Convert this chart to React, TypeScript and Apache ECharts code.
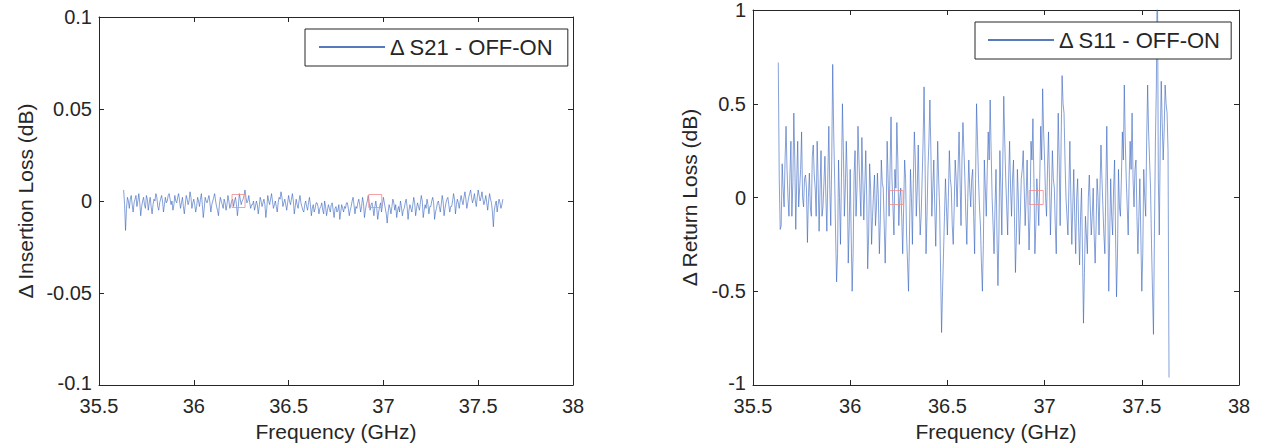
import React, { useEffect, useRef } from "react";
import * as echarts from "echarts";

// Frequency sweep (GHz): start and step of the measured points
const FREQ_START = 35.63;
const FREQ_STEP = 0.005;

// Δ S21 (dB), OFF-ON, one value per sweep point
const s21Values = [
  0.006, -0.002, -0.016, -0.004, 0.002, 0.0, -0.004, 0.001, 0.003, -0.002, -0.006, -0.001, 0.001, 0.003, -0.003, 0.0, 0.004, -0.001, -0.008, -0.003, 0.0, 0.002, -0.002, -0.004, 0.003, 0.001, -0.005, -0.001, 0.002, -0.003, -0.007, -0.002, 0.001, 0.0, 0.004, 0.002, -0.003, -0.005, -0.001, 0.001, 0.003, 0.0, -0.006, -0.002, 0.002, -0.001, 0.0, 0.003, 0.004, 0.001, -0.002, 0.0, -0.005, -0.002, 0.003, 0.0,
  -0.001, 0.002, 0.004, 0.0, -0.004, -0.001, 0.002, -0.003, -0.007, -0.002, 0.003, 0.001, -0.002, 0.0, 0.005, 0.002, -0.004, -0.001, 0.001, -0.002, -0.006, -0.003, 0.002, 0.0, -0.003, 0.001, 0.004, -0.002, -0.009, -0.004, 0.002, 0.0, -0.001, 0.001, 0.003, -0.001, -0.006, -0.002, 0.0, 0.002, 0.004, 0.0, -0.003, -0.005, -0.008, -0.002, 0.002, 0.0, -0.002, -0.004, 0.001, -0.001, -0.005, -0.002, 0.003, 0.0, -0.004, -0.002, 0.0, 0.001,
  -0.003, 0.0, 0.002, -0.002, -0.008, -0.003, 0.004, 0.001, -0.002, 0.0, 0.001, 0.003, 0.006, 0.002, -0.001, 0.0, 0.003, -0.001, -0.004, -0.002, -0.002, 0.0, -0.005, -0.003, 0.0, -0.002, -0.007, -0.003, 0.002, 0.0, -0.003, -0.001, 0.001, -0.002, -0.009, -0.004, 0.003, 0.0, -0.002, 0.001, 0.004, 0.0, -0.004, -0.002, 0.0, -0.003, -0.006, -0.001, 0.002, 0.001, 0.005, 0.002, -0.003, -0.001, 0.001, -0.002, -0.005, -0.001, 0.003, 0.0,
  -0.002, 0.001, 0.004, 0.0, -0.007, -0.003, 0.001, -0.002, -0.004, 0.0, 0.003, -0.001, -0.003, -0.005, -0.006, -0.002, 0.0, -0.003, -0.005, -0.001, 0.002, -0.002, -0.008, -0.004, -0.002, -0.006, -0.004, -0.001, -0.001, -0.003, -0.007, -0.004, -0.003, -0.001, -0.005, -0.007, 0.0, -0.003, -0.008, -0.005, -0.002, -0.004, -0.006, -0.002, -0.001, -0.005, -0.009, -0.004, -0.003, -0.006, -0.005, -0.002, -0.01, -0.006, -0.002, -0.004, -0.006, -0.003, -0.004, -0.001,
  -0.001, -0.004, -0.008, -0.005, -0.003, 0.0, 0.002, -0.002, -0.007, -0.003, -0.004, -0.001, 0.001, -0.002, -0.006, -0.003, 0.002, -0.001, -0.009, -0.005, -0.002, 0.0, 0.003, -0.001, -0.005, -0.002, -0.001, -0.004, -0.008, -0.003, 0.0, -0.004, -0.01, -0.006, -0.003, -0.001, -0.006, -0.002, 0.002, -0.001, -0.004, -0.007, -0.012, -0.006, -0.002, -0.004, -0.007, -0.003, 0.001, -0.001, -0.005, -0.002, -0.009, -0.005, -0.003, -0.006, 0.0, -0.003, -0.008, -0.005,
  -0.004, -0.001, 0.001, -0.003, -0.01, -0.005, -0.002, -0.004, -0.006, -0.002, 0.002, -0.001, -0.008, -0.004, -0.001, -0.003, -0.005, -0.001, 0.003, 0.0, -0.009, -0.005, -0.002, -0.004, 0.001, -0.002, -0.007, -0.003, -0.003, 0.0, 0.002, -0.001, -0.01, -0.006, -0.004, -0.001, 0.0, -0.003, -0.006, -0.002, 0.003, 0.0, -0.008, -0.004, -0.001, 0.001, 0.002, -0.002, -0.006, -0.003, -0.003, 0.0, 0.004, 0.001, -0.007, -0.002, 0.001, -0.001, -0.004, 0.0,
  0.003, 0.0, -0.002, 0.002, 0.005, 0.001, -0.004, -0.001, 0.002, 0.004, 0.006, 0.002, -0.001, 0.001, 0.004, 0.0, -0.003, 0.002, 0.006, 0.003, 0.0, 0.002, 0.005, 0.001, -0.002, 0.0, 0.003, -0.001, -0.005, 0.0, 0.004, 0.001, -0.001, -0.006, -0.014, -0.005, -0.002, 0.0, -0.006, -0.002, 0.001, -0.001, -0.004, -0.002, 0.001,
];

// Δ S11 (dB), OFF-ON, one value per sweep point
const s11Values = [
  0.72, 0.1, -0.17, -0.15, 0.18, 0.05, -0.05, 0.2, 0.38, 0.15, 0.0, -0.1, 0.12, 0.3, -0.1, 0.08, 0.45, 0.2, -0.17, 0.1,
  0.3, -0.05, 0.05, 0.15, 0.35, 0.0, -0.05, 0.1, 0.12, 0.05, -0.24, 0.0, 0.13, -0.05, -0.1, 0.22, 0.28, 0.12, 0.05, -0.1,
  0.3, 0.1, -0.18, 0.05, 0.25, -0.1, -0.05, 0.08, 0.22, 0.0, -0.18, 0.12, 0.38, 0.05, -0.15, 0.2, 0.71, 0.35, 0.1, -0.2,
  -0.45, -0.3, 0.2, 0.0, -0.25, 0.1, 0.5, 0.25, -0.1, 0.05, 0.3, 0.1, -0.35, -0.15, 0.15, -0.2, -0.5, -0.3, 0.12, 0.25,
  -0.1, 0.05, 0.38, 0.2, 0.05, -0.1, 0.32, 0.1, -0.12, 0.05, 0.25, 0.0, -0.38, -0.2, 0.18, 0.05, -0.25, -0.1, 0.02, 0.12,
  -0.15, -0.05, 0.13, 0.0, -0.3, -0.12, 0.2, 0.08, 0.05, -0.15, -0.35, -0.1, 0.3, 0.1, -0.1, 0.15, 0.43, 0.1, -0.05, -0.2,
  0.15, 0.05, 0.4, 0.2, -0.15, 0.0, 0.05, -0.1, -0.3, -0.05, 0.2, 0.1, -0.2, -0.35, -0.5, -0.2, 0.15, 0.0, -0.25, 0.1,
  0.35, 0.2, -0.1, 0.05, 0.28, 0.0, -0.2, -0.1, 0.1, 0.3, 0.59, 0.2, -0.3, -0.1, 0.15, 0.3, 0.52, 0.25, -0.1, 0.05,
  0.2, -0.05, -0.26, 0.0, 0.3, 0.1, -0.05, -0.4, -0.72, -0.5, -0.3, -0.1, 0.1, -0.05, -0.2, 0.0, 0.25, 0.1, 0.05, -0.15,
  -0.25, -0.05, 0.2, 0.1, -0.05, 0.15, 0.35, 0.1, -0.15, 0.2, 0.4, 0.25, 0.1, -0.1, -0.25, 0.0, 0.2, 0.05, -0.05, 0.1,
  0.15, -0.1, -0.3, 0.1, 0.5, 0.3, 0.1, -0.05, -0.15, -0.35, -0.5, -0.25, 0.2, 0.05, -0.1, 0.15, 0.35, 0.2, 0.52, 0.25,
  0.0, -0.15, -0.3, -0.05, 0.15, -0.2, -0.47, -0.2, 0.25, 0.05, -0.2, 0.2, 0.54, 0.3, 0.1, -0.05, -0.2, 0.1, 0.3, 0.05,
  -0.1, 0.1, 0.2, -0.1, -0.4, -0.2, 0.15, 0.0, -0.25, -0.1, 0.1, 0.15, 0.25, 0.05, -0.15, 0.0, 0.2, -0.05, -0.28, -0.1,
  0.3, 0.2, 0.42, 0.1, -0.3, -0.15, 0.1, 0.0, -0.15, 0.1, 0.38, 0.2, 0.58, 0.35, 0.2, 0.0, -0.1, 0.15, 0.35, 0.1,
  -0.2, 0.0, 0.25, 0.1, 0.05, -0.15, -0.3, 0.1, 0.45, 0.2, -0.15, 0.3, 0.65, 0.5, 0.45, 0.2, 0.0, -0.1, -0.2, 0.05,
  0.3, 0.0, -0.25, -0.05, 0.15, -0.1, -0.3, 0.0, 0.1, -0.15, -0.36, -0.1, 0.05, -0.3, -0.67, -0.4, -0.1, -0.2, -0.3, 0.0,
  0.12, -0.05, -0.2, -0.1, 0.05, -0.2, -0.35, -0.15, 0.1, 0.0, -0.2, 0.05, 0.28, 0.1, -0.05, -0.2, -0.3, 0.05, 0.38, 0.0,
  -0.5, -0.2, 0.1, -0.1, -0.2, 0.05, 0.2, -0.2, -0.53, -0.3, 0.15, -0.05, -0.1, 0.1, 0.35, 0.2, 0.6, 0.3, 0.1, -0.05,
  -0.2, 0.1, 0.3, 0.15, 0.45, 0.1, -0.05, 0.15, 0.2, -0.1, -0.3, -0.1, 0.1, -0.2, -0.5, -0.3, 0.15, 0.0, -0.1, 0.3,
  0.6, 0.35, 0.2, 0.05, -0.25, -0.5, -0.73, -0.2, 0.3, 0.6, 1.3, 0.1, -0.2, 0.3, 0.62, 0.4, 0.2, 0.35, 0.6, 0.5,
  0.45, 0.25, -0.96,
];

// Reference markers (hollow squares) at these frequencies
const markerFreqs = [36.236, 36.957];
const markerValues = [0, 0];

const xTicks = { min: 35.5, max: 38, interval: 0.5 };
const leftY = { min: -0.1, max: 0.1, interval: 0.05 };
const rightY = { min: -1, max: 1, interval: 0.5 };

const s21Name = "Δ S21 - OFF-ON";
const s11Name = "Δ S11 - OFF-ON";

const FONT = "'Liberation Sans', Arial, Helvetica, sans-serif";
const INK = "#262626";
const LINE_COLOR = "#3461bd";
const LEGEND_LINE = "#1f4ea8";
const MARKER_COLOR = "#f28b8b";

function toPairs(values: number[]) {
  return values.map((v, i) => [Number((FREQ_START + i * FREQ_STEP).toFixed(3)), v]);
}

function fmt(v: number) {
  const r = Math.round(v * 1000) / 1000;
  return String(r === 0 ? 0 : r);
}

export default function App() {
  const ref = useRef<HTMLDivElement>(null);

  useEffect(() => {
    if (!ref.current) return;
    const chart = echarts.init(ref.current, undefined, { renderer: "svg" });

    const axisLine = { show: true, onZero: false, lineStyle: { color: INK, width: 1 } };
    const tick = { show: true, inside: true, length: 5, lineStyle: { color: INK, width: 1 } };
    const label = { color: INK, fontSize: 20, fontFamily: FONT };

    const mkX = (gridIndex: number, position: "bottom" | "top", withLabels: boolean) => ({
      type: "value",
      gridIndex,
      position,
      min: xTicks.min,
      max: xTicks.max,
      interval: xTicks.interval,
      axisLine,
      axisTick: tick,
      splitLine: { show: false },
      axisLabel: withLabels ? { ...label, margin: 11, formatter: fmt } : { show: false },
      name: withLabels ? "Frequency (GHz)" : "",
      nameLocation: "middle",
      nameGap: 36,
      nameTextStyle: { color: INK, fontSize: 21, fontFamily: FONT },
    });

    const mkY = (
      gridIndex: number,
      position: "left" | "right",
      r: { min: number; max: number; interval: number },
      name: string,
      gap: number
    ) => ({
      type: "value",
      gridIndex,
      position,
      min: r.min,
      max: r.max,
      interval: r.interval,
      axisLine,
      axisTick: tick,
      splitLine: { show: false },
      axisLabel: name
        ? {
            ...label,
            margin: 7,
            formatter: (v: number) => (v === r.min ? "{low|" + fmt(v) + "}" : fmt(v)),
            rich: { low: { fontSize: 20, fontFamily: FONT, color: INK, padding: [0, 0, 4, 0] } },
          }
        : { show: false },
      name,
      nameLocation: "middle",
      nameGap: gap,
      nameTextStyle: { color: INK, fontSize: 21, fontFamily: FONT },
    });

    const markerData = markerFreqs.map((f, i) => [f, markerValues[i]]);

    const legendBase = {
      orient: "horizontal",
      itemWidth: 66,
      itemHeight: 1.4,
      borderColor: INK,
      borderWidth: 1,
      borderRadius: 0,
      backgroundColor: "#ffffff",
      itemStyle: { color: LEGEND_LINE },
      textStyle: { color: INK, fontSize: 22, fontFamily: FONT, padding: [4, 0, 0, 0] },
    };

    chart.setOption({
      animation: false,
      backgroundColor: "#ffffff",
      textStyle: { fontFamily: FONT },
      grid: [
        { left: 99, top: 17, width: 474, height: 368 },
        { left: 753, top: 10, width: 486, height: 375 },
      ],
      xAxis: [mkX(0, "bottom", true), mkX(0, "top", false), mkX(1, "bottom", true), mkX(1, "top", false)],
      yAxis: [
        mkY(0, "left", leftY, "Δ Insertion Loss (dB)", 63),
        mkY(0, "right", leftY, "", 0),
        mkY(1, "left", rightY, "Δ Return Loss (dB)", 53),
        mkY(1, "right", rightY, "", 0),
      ],
      legend: [
        {
          ...legendBase,
          data: [{ name: s21Name, icon: "rect" }],
          left: 305,
          top: 29,
          padding: [7, 14, 8, 14],
        },
        {
          ...legendBase,
          data: [{ name: s11Name, icon: "rect" }],
          left: 975,
          top: 22,
          padding: [7, 10, 8, 13],
        },
      ],
      series: [
        {
          name: s21Name,
          type: "line",
          xAxisIndex: 0,
          yAxisIndex: 0,
          data: toPairs(s21Values),
          symbol: "none",
          lineStyle: { color: LINE_COLOR, width: 0.6 },
          itemStyle: { color: LEGEND_LINE },
          clip: true,
          z: 2,
        },
        {
          name: "markers-s21",
          type: "scatter",
          xAxisIndex: 0,
          yAxisIndex: 0,
          data: markerData,
          symbol: "rect",
          symbolSize: 13,
          itemStyle: { color: "transparent", borderColor: MARKER_COLOR, borderWidth: 1 },
          z: 3,
        },
        {
          name: s11Name,
          type: "line",
          xAxisIndex: 2,
          yAxisIndex: 2,
          data: toPairs(s11Values),
          symbol: "none",
          lineStyle: { color: LINE_COLOR, width: 0.6 },
          itemStyle: { color: LEGEND_LINE },
          clip: true,
          z: 2,
        },
        {
          name: "markers-s11",
          type: "scatter",
          xAxisIndex: 2,
          yAxisIndex: 2,
          data: markerData,
          symbol: "rect",
          symbolSize: 14,
          itemStyle: { color: "transparent", borderColor: MARKER_COLOR, borderWidth: 1 },
          z: 3,
        },
      ],
    });

    return () => chart.dispose();
  }, []);

  return (
    <div
      ref={ref}
      style={{ position: "fixed", left: 0, top: 0, width: 1262, height: 448, background: "#fff" }}
    />
  );
}
